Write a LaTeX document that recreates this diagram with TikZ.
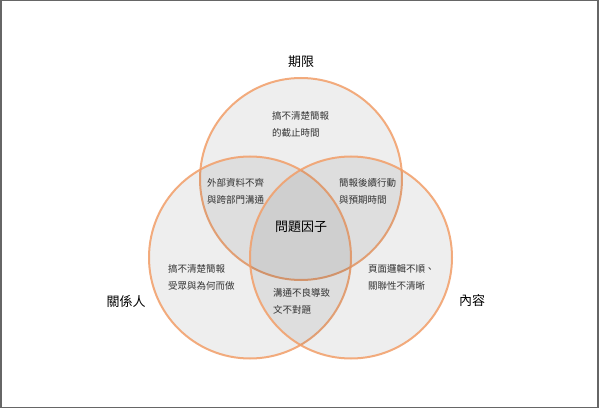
\documentclass[tikz,border=0pt]{standalone}
\usepackage{fontspec}
\newfontfamily\cjk{Noto Sans CJK TC}
\definecolor{ring}{HTML}{F29E68}
\definecolor{txt}{HTML}{333333}
\begin{document}
\begin{tikzpicture}[x=1pt,y=-1pt,
  setc/.style={fill=black,fill opacity=0.065,draw=ring,draw opacity=0.85,line width=2pt},
  small/.style={font=\cjk\fontsize{9.5}{17}\selectfont,text=txt,align=left,anchor=west,inner sep=0pt},
  big/.style={font=\cjk\fontsize{13}{15}\selectfont,text=black,inner sep=0pt}]
\useasboundingbox (0,0) rectangle (600,409);
\fill[white] (0,0) rectangle (600,409);
\draw[draw=black!60,line width=1.5pt] (0.75,0.75) rectangle (598,407.5);
\path[setc] (301,179) circle[radius=101];
\path[setc] (250,257.5) circle[radius=101];
\path[setc] (351,257.5) circle[radius=101];
\node[big] (t) at (301,62) {期限};
\node[big] (l) at (126,301) {關係人};
\node[big] (r) at (472,301) {內容};
\node[big] (c) at (301,227) {問題因子};
\node[small] (a) at (272,124.5) {搞不清楚簡報\\的截止時間};
\node[small] (b) at (207,191.5) {外部資料不齊\\與跨部門溝通};
\node[small] (d) at (339,191.5) {簡報後續行動\\與預期時間};
\node[small] (e) at (168,277.5) {搞不清楚簡報\\受眾與為何而做};
\node[small] (f) at (273,301.5) {溝通不良導致\\文不對題};
\node[small] (g) at (368,277) {頁面邏輯不順、\\關聯性不清晰};
\end{tikzpicture}
\end{document}
